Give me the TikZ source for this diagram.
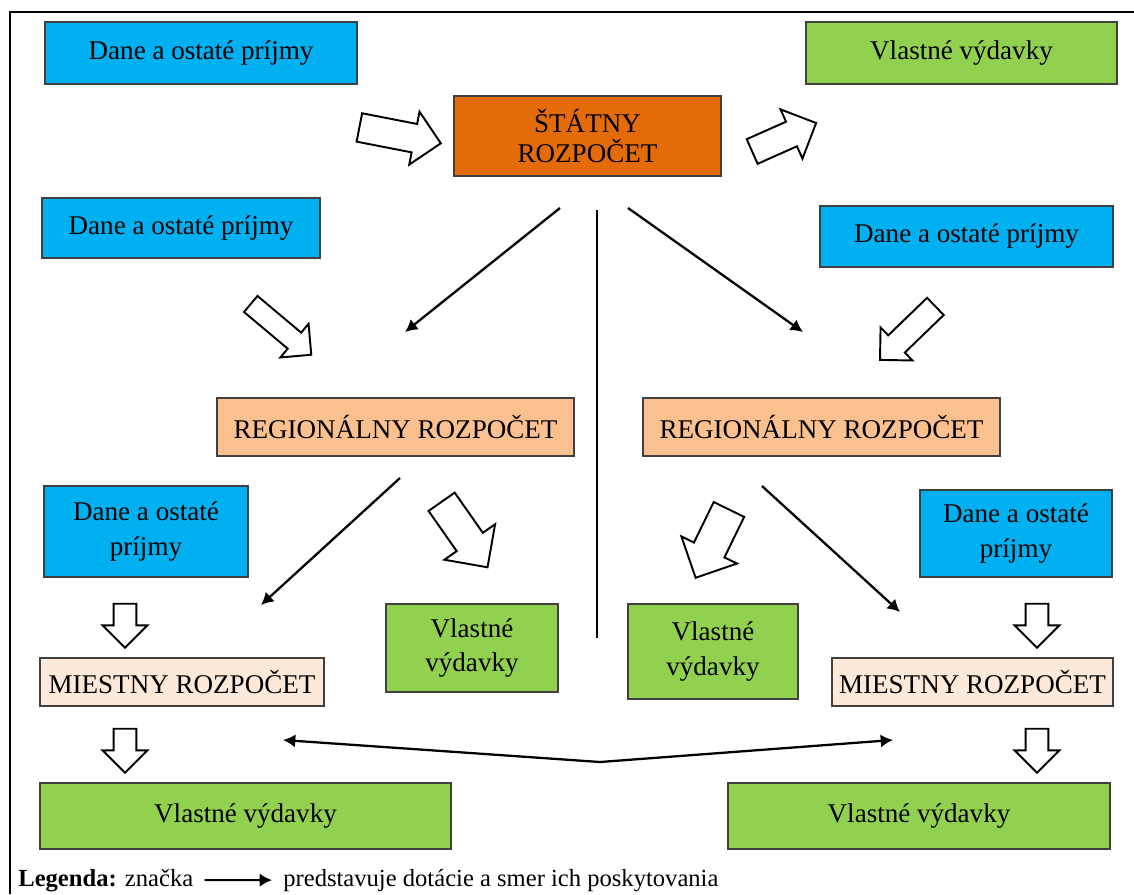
\documentclass[tikz,border=0pt]{standalone}
\usepackage{fontspec}
\setmainfont{Liberation Serif}
\usetikzlibrary{arrows.meta,shapes.arrows,positioning}
\definecolor{prijmy}{HTML}{00B0F0}
\definecolor{vydavky}{HTML}{92D050}
\definecolor{statcol}{HTML}{E36C09}
\definecolor{regcol}{HTML}{FAC090}
\definecolor{miestcol}{HTML}{FDE9D9}
\tikzset{box/.style = {rectangle, draw=black!75, line width=0.8pt, inner sep=0pt, align=center, font=\fontsize{15.4}{19.5}\selectfont},
    sz/.style 2 args = {minimum width=#1*0.02cm, minimum height=#2*0.02cm},
    prijem/.style = {box, fill=prijmy},
    vydaj/.style = {box, fill=vydavky},
    stat/.style = {box, fill=statcol, font=\fontsize{15.4}{17.6}\selectfont},
    region/.style = {box, fill=regcol},
    obec/.style = {box, fill=miestcol},
    tok/.style n args = {3}{single arrow, draw=black, fill=white, line width=1.1pt, inner xsep=0pt,
        inner ysep=#3*0.01cm, minimum height=#1*0.02cm, minimum width=#2*0.02cm,
        single arrow head extend=(#2-#3)*0.01cm},
    dotacia/.style = {-{Latex[length=7pt,width=7.5pt]}, line width=1.3pt}
}
\begin{document}
\begin{tikzpicture}[x=0.02cm, y=-0.02cm]
\useasboundingbox (0,0) rectangle (1134,894);
\draw[line width=1.1pt] (10,894) -- (10,12) -- (1134,12);

% stat
\node[prijem, sz={312}{62}] (dane1) at (201,53) {Dane a ostaté príjmy};
\node[vydaj, sz={311}{62}] (vlast1) at (961.5,53) {Vlastné výdavky};
\node[stat, sz={267}{80}] (stat) at (587.5,136) {ŠTÁTNY\\ROZPOČET};

% regiony
\node[prijem, sz={278}{60}] (dane2) at (181,228) {Dane a ostaté príjmy};
\node[prijem, sz={293}{61}] (dane3) at (966.5,236.5) {Dane a ostaté príjmy};
\node[region, sz={357}{58}] (regL) at (395.5,427) {REGIONÁLNY ROZPOČET};
\node[region, sz={357}{58}] (regR) at (821.5,427) {REGIONÁLNY ROZPOČET};
\node[vydaj, sz={172}{88}] (vlast2) at (472,648) {Vlastné\\výdavky};
\node[vydaj, sz={170}{95}] (vlast3) at (713,651.5) {Vlastné\\výdavky};

% obce
\node[prijem, sz={204}{91}] (dane4) at (146,531.5) {Dane a ostaté\\príjmy};
\node[prijem, sz={192}{87}] (dane5) at (1016,533.5) {Dane a ostaté\\príjmy};
\node[obec, sz={284}{48}] (miestL) at (182,682) {MIESTNY ROZPOČET};
\node[obec, sz={281}{48}] (miestR) at (972.5,682) {MIESTNY ROZPOČET};
\node[vydaj, sz={411}{66}] (vlast4) at (245.5,816) {Vlastné výdavky};
\node[vydaj, sz={382}{66}] (vlast5) at (919,816) {Vlastné výdavky};

% toky prijmov a vydavkov
\node[tok={83}{52}{27}, rotate=-11] (t1) at (393,134) {};
\node[tok={70}{52}{25}, rotate=24] (t2) at (778,140) {};
\node[tok={79}{42}{19}, rotate=-40] (t3) at (277,326) {};
\node[tok={77}{44}{22}, rotate=-136] (t4) at (912,329) {};
\node[tok={80}{60}{30}, rotate=-55] (t5) at (460,528) {};
\node[tok={76}{60}{32}, rotate=-116] (t6) at (716,536) {};
\foreach \x/\y [count=\i] in {125/620, 1037/620, 125/745, 1037/745}
  \node[tok={44}{43}{21}, rotate=-90] (m\i) at (\x,\y) {};

% dotacie
\coordinate (s1) at (560,208);  \coordinate (e1) at (405,332);
\coordinate (s2) at (628,208);  \coordinate (e2) at (803,332);
\coordinate (s3) at (400,478);  \coordinate (e3) at (261,605);
\coordinate (s4) at (762,486);  \coordinate (e4) at (900,612);
\coordinate (v1) at (597,210);  \coordinate (v2) at (597,638);
\coordinate (mid) at (600,762);
\coordinate (eL) at (283,740);  \coordinate (eR) at (893,740);
\draw[dotacia] (s1) -- (e1);
\draw[dotacia] (s2) -- (e2);
\draw[dotacia] (s3) -- (e3);
\draw[dotacia] (s4) -- (e4);
\draw[line width=1.3pt] (v1) -- (v2);
\draw[dotacia] (mid) -- (eL);
\draw[dotacia] (mid) -- (eR);

% legenda
\node[anchor=base west, inner sep=0pt, font=\fontsize{14}{16}\selectfont] (leg1) at (18,886) {\textbf{Legenda:} značka};
\node[anchor=base west, inner sep=0pt, font=\fontsize{14}{16}\selectfont] (leg2) at (283,886) {predstavuje dotácie a smer ich poskytovania};
\draw[dotacia, line width=1.1pt] ([xshift=11*0.02cm]leg1.east) -- ([xshift=-11*0.02cm]leg2.west);
\end{tikzpicture}
\end{document}
